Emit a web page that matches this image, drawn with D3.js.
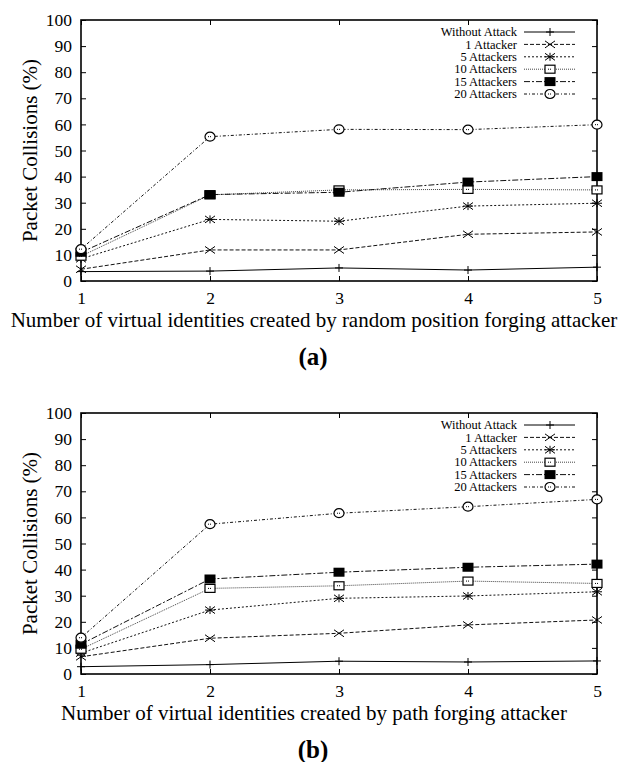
<!DOCTYPE html>
<html>
<head>
<meta charset="utf-8">
<script src="https://cdn.jsdelivr.net/npm/d3@7"></script>
<style>
  body { margin: 0; background: #fff; }
  svg { display: block; font-family: "Liberation Serif", "DejaVu Serif", serif; }
</style>
</head>
<body>
<svg width="627" height="762"></svg>
<script>
// data
const xValues = [1, 2, 3, 4, 5];
const seriesNames = ["Without Attack", "1 Attacker", "5 Attackers", "10 Attackers", "15 Attackers", "20 Attackers"];
const yTicks = [0, 10, 20, 30, 40, 50, 60, 70, 80, 90, 100];

// panel (a): random position forging
const randomWithout = [3.6, 3.8, 5.0, 4.2, 5.3];
const random1 = [4.5, 11.9, 11.9, 17.9, 18.8];
const random5 = [8.5, 23.6, 22.9, 28.7, 29.8];
const random10 = [9.5, 33.0, 34.9, 35.1, 34.9];
const random15 = [11.0, 33.1, 34.0, 37.9, 40.0];
const random20 = [12.2, 55.3, 58.1, 58.0, 59.9];

// panel (b): path forging
const pathWithout = [2.8, 3.6, 4.9, 4.6, 5.0];
const path1 = [6.6, 13.7, 15.6, 18.8, 20.7];
const path5 = [8.0, 24.5, 29.0, 29.9, 31.5];
const path10 = [9.5, 32.8, 33.8, 35.6, 34.7];
const path15 = [11.4, 36.4, 39.0, 40.9, 42.1];
const path20 = [13.9, 57.4, 61.6, 64.1, 66.9];

const panels = [
  { top: 20, series: [randomWithout, random1, random5, random10, random15, random20],
    xLabel: "Number of virtual identities created by random position forging attacker", tag: "(a)" },
  { top: 413, series: [pathWithout, path1, path5, path10, path15, path20],
    xLabel: "Number of virtual identities created by path forging attacker", tag: "(b)" }
];

// line styles, gnuplot-ish
const dashes = [null, "4,2", "2,2", "1,1", "6,2,2,2", "3,2,1,2"];
const strokes = ["#000", "#111", "#111", "#444", "#111", "#111"];
const markers = ["plus", "cross", "star", "box", "boxfill", "circle"];

const svg = d3.select("svg");
const left = 81, right = 597, plotH = 261;
const serif = "Liberation Serif";

function drawMarker(g, type, x, y) {
  const m = g.append("g").attr("transform", "translate(" + x + "," + y + ")");
  if (type === "plus") {
    m.append("path").attr("d", "M-4,0H4M0,-4V4").attr("stroke", "#000").attr("fill", "none");
  } else if (type === "cross") {
    m.append("path").attr("d", "M-5,-3.5L5,3.5M-5,3.5L5,-3.5").attr("stroke", "#000").attr("fill", "none");
  } else if (type === "star") {
    m.append("path").attr("d", "M-5,-3.5L5,3.5M-5,3.5L5,-3.5M-5,0H5M0,-4V4").attr("stroke", "#000").attr("fill", "none");
  } else if (type === "box") {
    m.append("rect").attr("x", -5).attr("y", -4).attr("width", 10).attr("height", 8)
      .attr("fill", "#fff").attr("stroke", "#000").attr("stroke-width", 1.2);
    m.append("path").attr("d", "M-2,0H2").attr("stroke", "#000").attr("stroke-dasharray", "1,1");
  } else if (type === "boxfill") {
    m.append("rect").attr("x", -5.5).attr("y", -4.5).attr("width", 11).attr("height", 9).attr("fill", "#000");
  } else if (type === "circle") {
    m.append("ellipse").attr("rx", 5).attr("ry", 4.5).attr("fill", "#fff").attr("stroke", "#000").attr("stroke-width", 1.2);
    m.append("path").attr("d", "M-2,0H2").attr("stroke", "#000").attr("stroke-dasharray", "1,1");
  }
}

panels.forEach(function (p) {
  const x = d3.scaleLinear().domain([1, 5]).range([left, right]);
  const y = d3.scaleLinear().domain([0, 100]).range([p.top + plotH, p.top]);
  const g = svg.append("g");

  // y axis, ticks inside on both sides
  g.append("g")
    .attr("transform", "translate(" + left + ",0)")
    .call(d3.axisLeft(y).tickValues(yTicks).tickSize(-5).tickPadding(9))
    .call(s => s.select(".domain").remove())
    .call(s => s.selectAll("text").attr("font-size", 17.5).attr("font-family", serif).attr("fill", "#000"));
  g.append("g")
    .attr("transform", "translate(" + right + ",0)")
    .call(d3.axisRight(y).tickValues(yTicks).tickSize(-5).tickFormat(""))
    .call(s => s.select(".domain").remove());

  // x axis
  g.append("g")
    .attr("transform", "translate(0," + (p.top + plotH) + ")")
    .call(d3.axisBottom(x).tickValues(xValues).tickSize(-5).tickPadding(11).tickFormat(d3.format("d")))
    .call(s => s.select(".domain").remove())
    .call(s => s.selectAll("text").attr("font-size", 17.5).attr("font-family", serif).attr("fill", "#000"));
  g.append("g")
    .attr("transform", "translate(0," + p.top + ")")
    .call(d3.axisTop(x).tickValues(xValues).tickSize(-5).tickFormat(""))
    .call(s => s.select(".domain").remove());

  // frame
  g.append("rect")
    .attr("x", left).attr("y", p.top)
    .attr("width", right - left).attr("height", plotH)
    .attr("fill", "none").attr("stroke", "#000").attr("stroke-width", 1.6);

  // series lines and points
  const line = d3.line().x((d, i) => x(xValues[i])).y(d => y(d));
  p.series.forEach(function (vals, si) {
    g.append("path")
      .datum(vals)
      .attr("d", line)
      .attr("fill", "none")
      .attr("stroke", strokes[si])
      .attr("stroke-width", 1)
      .attr("stroke-dasharray", dashes[si]);
  });
  p.series.forEach(function (vals, si) {
    vals.forEach(function (v, i) { drawMarker(g, markers[si], x(xValues[i]), y(v)); });
  });

  // legend
  const leg = g.append("g");
  seriesNames.forEach(function (name, si) {
    const ly = p.top + 12 + si * 12.4;
    leg.append("text")
      .attr("x", 517).attr("y", ly).attr("dy", "0.33em")
      .attr("text-anchor", "end").attr("font-size", 12.5).attr("font-family", serif)
      .text(name);
    leg.append("line")
      .attr("x1", 524).attr("x2", 575).attr("y1", ly).attr("y2", ly)
      .attr("stroke", strokes[si]).attr("stroke-dasharray", dashes[si]);
    drawMarker(leg, markers[si], 550, ly);
  });

  // axis titles
  g.append("text")
    .attr("transform", "translate(37," + (p.top + plotH / 2) + ") rotate(-90)")
    .attr("text-anchor", "middle").attr("font-size", 21).attr("font-family", serif)
    .text("Packet Collisions (%)");
  g.append("text")
    .attr("x", 314).attr("y", p.top + plotH + 46)
    .attr("text-anchor", "middle").attr("font-size", 21).attr("font-family", serif)
    .text(p.xLabel);
  g.append("text")
    .attr("x", 313).attr("y", p.top + plotH + 84)
    .attr("text-anchor", "middle").attr("font-size", 25).attr("font-weight", "bold").attr("font-family", serif)
    .text(p.tag);
});
</script>
</body>
</html>
